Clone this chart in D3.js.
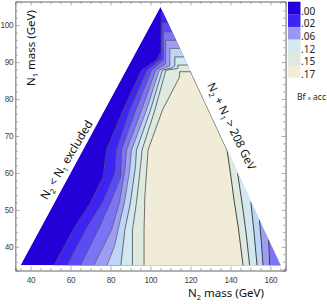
<!DOCTYPE html>
<html>
<head>
<meta charset="utf-8">
<script src="https://cdn.jsdelivr.net/npm/d3@7"></script>
<style>
  body { margin: 0; background: #fff; }
  svg { display: block; font-family: "Noto Sans", "Open Sans", sans-serif; }
</style>
</head>
<body>
<svg id="chart" width="327" height="304"></svg>
<script>
// allowed region: N2 >= N1, N2 + N1 below the kinematic line
const triangle = [[35, 35], [105, 105], [165, 35]];

// colour of each band, from Bf x acc ~ 0 (left) up to the plateau (cream)
const bandColors = ["#2300d8", "#3e24f2", "#5b4bf5", "#7b74f4", "#9e9df3",
                    "#bdd5f6", "#d1e8ef", "#dee9df", "#f1ecd8"];

// left-hand contour lines, points as [N2, N1]
const leftContours = [
  [[51.8,35],[61.3,44.6],[70,52],[76.3,59],[78,66.2],[86.3,77],[95.5,87.8],[103,90.5],[105.3,93],[105.4,103.6],[115,103.6]],
  [[58.3,35],[67.5,44.6],[76,52],[82.2,59.9],[83,66.2],[89.6,77],[98.3,87.8],[105.6,91],[105.9,100.6],[115,100.6]],
  [[65,35],[73.8,44.6],[80,52],[85.2,59],[85.5,66.2],[92.6,77],[100.5,87.8],[106.5,90.5],[106.6,98.2],[118,98.2]],
  [[71.7,35],[80.5,44.6],[84.5,52],[87.2,60.8],[88,66.2],[95.5,77],[102.6,87.8],[107.5,89.5],[107.7,95.9],[118,95.9]],
  [[78.3,35],[82.2,40.5],[83.8,44.6],[87,52],[89.6,60.8],[90.5,66.2],[98,77],[104.3,87.8],[109.7,89],[109.7,93.7],[122,93.7]],
  [[85.2,35],[87.2,44.6],[90,52],[92.5,61.7],[93,66.2],[100,77],[106,87.8],[111,88.5],[112.2,89],[112.2,91.4],[122,91.4]],
  [[91,35],[91,44.6],[93,52],[95.2,62.6],[95.8,66.2],[102.2,77],[107.7,87.8],[113.7,88.3],[113.7,89.2],[125,89.2]],
  [[96.8,35],[96.8,44.6],[97.2,53.6],[98.8,66.2],[106,77],[114.6,86],[114.6,87.4],[125,87.4]]
];

// right-hand contour lines (top end on the kinematic edge)
const rightContours = [
  [[120.1,87.4],[138.3,66.2],[140,60],[141.8,52.7],[144,45],[146.3,35]],
  [[143.6,60],[146.3,50],[148,43],[149.6,35]],
  [[150.2,52.2],[151.8,44],[153.3,35]],
  [[154.5,47.3],[155.5,41],[156.3,35]],
  [[159.1,42],[159.4,38.5],[159.6,35]]
];
const rightBand = [7, 6, 5, 4, 3];

const legendLabels = [".00", ".02", ".06", ".12", ".15", ".17"];
const legendColors = ["#2300d8", "#3e24f2", "#9897f2", "#d2eaf0", "#dee9e0", "#f2ecd8"];

const xMajor = [40, 60, 80, 100, 120, 140, 160];
const yMajor = [40, 50, 60, 70, 80, 90, 100];

const svg = d3.select("#chart");

const x = d3.scaleLinear().domain([32.4, 167.6]).range([15.3, 285.6]);
const y = d3.scaleLinear().domain([33.6, 106.4]).range([270.5, 1.5]);

const line = d3.line().x(d => x(d[0])).y(d => y(d[1]));

svg.append("clipPath").attr("id", "tri")
  .append("path").attr("d", line(triangle) + "Z");

const plot = svg.append("g").attr("clip-path", "url(#tri)");

// base band
plot.append("path").attr("d", line(triangle) + "Z").attr("fill", bandColors[0]);

// each band = everything right of its contour, painted in order
leftContours.forEach((c, i) => {
  let pts = c.concat([[175, c[c.length-1][1]], [175, 30], [c[0][0], 30]]);
  plot.append("path").attr("d", line(pts) + "Z").attr("fill", bandColors[i+1]);
});
rightContours.forEach((c, i) => {
  let pts = [[175, c[0][1]]].concat(c, [[c[c.length-1][0], 30], [175, 30]]);
  plot.append("path").attr("d", line(pts) + "Z").attr("fill", bandColors[rightBand[i]]);
});

// contour lines
leftContours.forEach((c, i) => {
  plot.append("path").attr("d", line(c))
    .attr("fill", "none")
    .attr("stroke", i < 5 ? "#555" : "#333")
    .attr("stroke-width", 0.8)
    .attr("stroke-opacity", 0.85);
});
rightContours.forEach(c => {
  plot.append("path").attr("d", line(c))
    .attr("fill", "none").attr("stroke", "#333").attr("stroke-width", 0.9);
});

// frame + ticks
const minorX = d3.range(35, 166, 5).filter(v => !xMajor.includes(v));
const minorY = d3.range(34, 106, 2).filter(v => !yMajor.includes(v));

function styleAxis(g) {
  g.select(".domain").attr("stroke", "#888").attr("stroke-width", 0.8);
  g.selectAll(".tick line").attr("stroke", "#888").attr("stroke-width", 0.7);
  g.selectAll(".tick text").attr("fill", "#444").attr("font-size", 8.2)
    .attr("letter-spacing", -0.3);
}

const H = 270.5, T = 1.5, L = 15.3, R = 285.6;

svg.append("g").attr("transform", `translate(0,${H})`)
  .call(d3.axisBottom(x).tickValues(xMajor).tickSize(-4).tickPadding(6.5).tickFormat(d3.format("d")))
  .call(styleAxis);
svg.append("g").attr("transform", `translate(0,${H})`)
  .call(d3.axisBottom(x).tickValues(minorX).tickSize(-2.5).tickFormat(""))
  .call(styleAxis);
svg.append("g").attr("transform", `translate(0,${T})`)
  .call(d3.axisTop(x).tickValues(xMajor).tickSize(-4).tickFormat(""))
  .call(styleAxis);
svg.append("g").attr("transform", `translate(0,${T})`)
  .call(d3.axisTop(x).tickValues(minorX).tickSize(-2.5).tickFormat(""))
  .call(styleAxis);

svg.append("g").attr("transform", `translate(${L},0)`)
  .call(d3.axisLeft(y).tickValues(yMajor).tickSize(-4).tickPadding(2).tickFormat(d3.format("d")))
  .call(styleAxis);
svg.append("g").attr("transform", `translate(${L},0)`)
  .call(d3.axisLeft(y).tickValues(minorY).tickSize(-2.5).tickFormat(""))
  .call(styleAxis);
svg.append("g").attr("transform", `translate(${R},0)`)
  .call(d3.axisRight(y).tickValues(yMajor).tickSize(-4).tickFormat(""))
  .call(styleAxis);
svg.append("g").attr("transform", `translate(${R},0)`)
  .call(d3.axisRight(y).tickValues(minorY).tickSize(-2.5).tickFormat(""))
  .call(styleAxis);

// axis titles
const xt = svg.append("text").attr("x", 226).attr("y", 297)
  .attr("text-anchor", "middle").attr("font-size", 11.5).attr("fill", "#111");
xt.append("tspan").text("N");
xt.append("tspan").text("2").attr("font-size", 7.5).attr("dy", 3);
xt.append("tspan").text(" mass (GeV)").attr("dy", -3);

const yt = svg.append("text").attr("transform", "translate(35,48) rotate(-90)")
  .attr("text-anchor", "middle").attr("font-size", 11.5).attr("fill", "#111");
yt.append("tspan").text("N");
yt.append("tspan").text("1").attr("font-size", 7.5).attr("dy", 3);
yt.append("tspan").text(" mass (GeV)").attr("dy", -3);

// region notes
const t1 = svg.append("text").attr("transform", "translate(70,162) rotate(-59)")
  .attr("text-anchor", "middle").attr("font-size", 11.5).attr("fill", "#111");
t1.append("tspan").text("N");
t1.append("tspan").text("2").attr("font-size", 7.5).attr("dy", 3);
t1.append("tspan").text(" < N").attr("dy", -3);
t1.append("tspan").text("1").attr("font-size", 7.5).attr("dy", 3);
t1.append("tspan").text(" excluded").attr("dy", -3);

const t2 = svg.append("text").attr("transform", "translate(228,128) rotate(64)")
  .attr("text-anchor", "middle").attr("font-size", 11.5).attr("fill", "#111");
t2.append("tspan").text("N");
t2.append("tspan").text("2").attr("font-size", 7.5).attr("dy", 3);
t2.append("tspan").text(" + N").attr("dy", -3);
t2.append("tspan").text("1").attr("font-size", 7.5).attr("dy", 3);
t2.append("tspan").text(" > 208 GeV").attr("dy", -3);

// legend
const ly = d3.scaleBand().domain(legendLabels).range([1.7, 77.3]);
const leg = svg.append("g");
leg.selectAll("rect").data(legendLabels).join("rect")
  .attr("x", 288).attr("y", d => ly(d)).attr("width", 12.5).attr("height", ly.bandwidth() + 0.3)
  .attr("fill", (d, i) => legendColors[i]);
leg.selectAll("text").data(legendLabels).join("text")
  .attr("x", 301).attr("y", d => ly(d) + ly.bandwidth() + 0.5)
  .attr("font-size", 10).attr("fill", "#222").text(d => d);

const bt = svg.append("text").attr("x", 297).attr("y", 100).attr("font-size", 8.5).attr("fill", "#222");
bt.append("tspan").text("Bf ");
bt.append("tspan").text("x").attr("font-size", 6);
bt.append("tspan").text(" acc");
</script>
</body>
</html>
